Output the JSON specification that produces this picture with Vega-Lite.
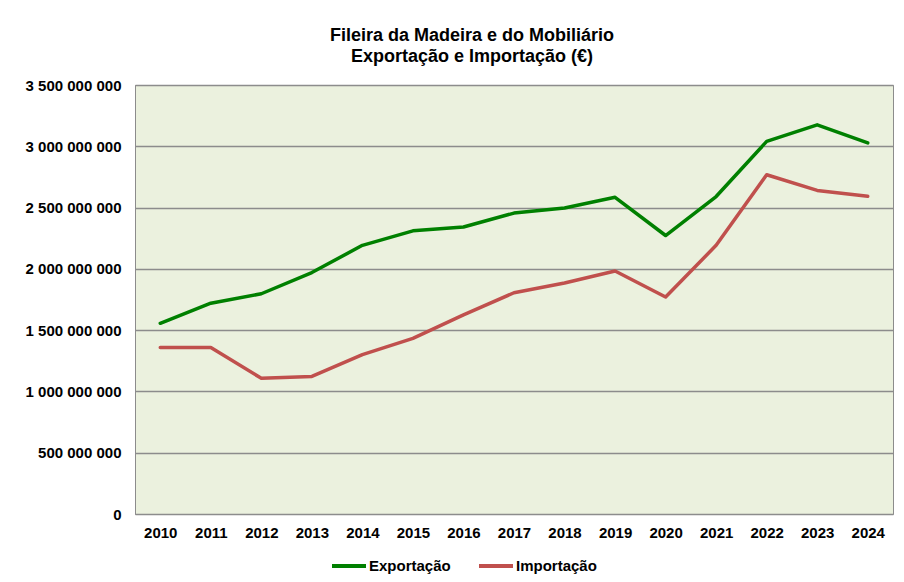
{
  "$schema": "https://vega.github.io/schema/vega-lite/v6.json",
  "autosize": "none",
  "width": 758,
  "height": 429,
  "padding": {"left": 135, "top": 85, "right": 11, "bottom": 68},
  "background": "white",
  "title": {
    "text": ["Fileira da Madeira e do Mobiliário", "Exportação e Importação (€)"],
    "font": "Liberation Sans",
    "fontSize": 18,
    "fontWeight": "bold",
    "lineHeight": 21,
    "color": "black",
    "anchor": "middle",
    "dx": -42,
    "offset": 12
  },
  "config": {
    "locale": {"number": {"decimal": ",", "thousands": " ", "grouping": [3], "currency": ["", " €"]}},
    "view": {"fill": "#EBF1DE", "stroke": "#8c8c8c", "strokeWidth": 1},
    "font": "Liberation Sans"
  },
  "data": {
    "values": [
      {"ano": "2010", "serie": "Exportação", "valor": 1556000000},
      {"ano": "2011", "serie": "Exportação", "valor": 1720000000},
      {"ano": "2012", "serie": "Exportação", "valor": 1797000000},
      {"ano": "2013", "serie": "Exportação", "valor": 1970000000},
      {"ano": "2014", "serie": "Exportação", "valor": 2192000000},
      {"ano": "2015", "serie": "Exportação", "valor": 2310000000},
      {"ano": "2016", "serie": "Exportação", "valor": 2342000000},
      {"ano": "2017", "serie": "Exportação", "valor": 2455000000},
      {"ano": "2018", "serie": "Exportação", "valor": 2497000000},
      {"ano": "2019", "serie": "Exportação", "valor": 2584000000},
      {"ano": "2020", "serie": "Exportação", "valor": 2272000000},
      {"ano": "2021", "serie": "Exportação", "valor": 2590000000},
      {"ano": "2022", "serie": "Exportação", "valor": 3040000000},
      {"ano": "2023", "serie": "Exportação", "valor": 3175000000},
      {"ano": "2024", "serie": "Exportação", "valor": 3028000000},
      {"ano": "2010", "serie": "Importação", "valor": 1358000000},
      {"ano": "2011", "serie": "Importação", "valor": 1358000000},
      {"ano": "2012", "serie": "Importação", "valor": 1107000000},
      {"ano": "2013", "serie": "Importação", "valor": 1122000000},
      {"ano": "2014", "serie": "Importação", "valor": 1300000000},
      {"ano": "2015", "serie": "Importação", "valor": 1433000000},
      {"ano": "2016", "serie": "Importação", "valor": 1625000000},
      {"ano": "2017", "serie": "Importação", "valor": 1805000000},
      {"ano": "2018", "serie": "Importação", "valor": 1885000000},
      {"ano": "2019", "serie": "Importação", "valor": 1983000000},
      {"ano": "2020", "serie": "Importação", "valor": 1770000000},
      {"ano": "2021", "serie": "Importação", "valor": 2192000000},
      {"ano": "2022", "serie": "Importação", "valor": 2768000000},
      {"ano": "2023", "serie": "Importação", "valor": 2640000000},
      {"ano": "2024", "serie": "Importação", "valor": 2592000000}
    ]
  },
  "mark": {"type": "line", "strokeWidth": 3.5, "strokeJoin": "round", "strokeCap": "round"},
  "encoding": {
    "x": {
      "field": "ano",
      "type": "ordinal",
      "scale": {"type": "point", "padding": 0.5},
      "axis": {
        "title": null,
        "labelAngle": 0,
        "labelFont": "Liberation Sans",
        "labelFontSize": 15,
        "labelFontWeight": "bold",
        "labelColor": "black",
        "labelPadding": 11,
        "ticks": false,
        "domain": false,
        "grid": false
      }
    },
    "y": {
      "field": "valor",
      "type": "quantitative",
      "scale": {"domain": [0, 3500000000], "nice": false},
      "axis": {
        "title": null,
        "values": [0, 500000000, 1000000000, 1500000000, 2000000000, 2500000000, 3000000000, 3500000000],
        "format": ",d",
        "labelFont": "Liberation Sans",
        "labelFontSize": 15,
        "labelFontWeight": "bold",
        "labelColor": "black",
        "labelPadding": 14,
        "ticks": false,
        "domain": true,
        "domainColor": "#8c8c8c",
        "grid": true,
        "gridColor": "#8c8c8c",
        "gridWidth": 1.3
      }
    },
    "color": {
      "field": "serie",
      "type": "nominal",
      "scale": {"domain": ["Exportação", "Importação"], "range": ["#008000", "#C0504D"]},
      "legend": {
        "title": null,
        "orient": "none",
        "direction": "horizontal",
        "legendX": 195,
        "legendY": 462,
        "symbolType": "stroke",
        "symbolStrokeWidth": 4,
        "symbolSize": 1156,
        "labelFont": "Liberation Sans",
        "labelFontSize": 15,
        "labelFontWeight": "bold",
        "labelColor": "black",
        "labelOffset": 1,
        "columnPadding": 20
      }
    }
  }
}
